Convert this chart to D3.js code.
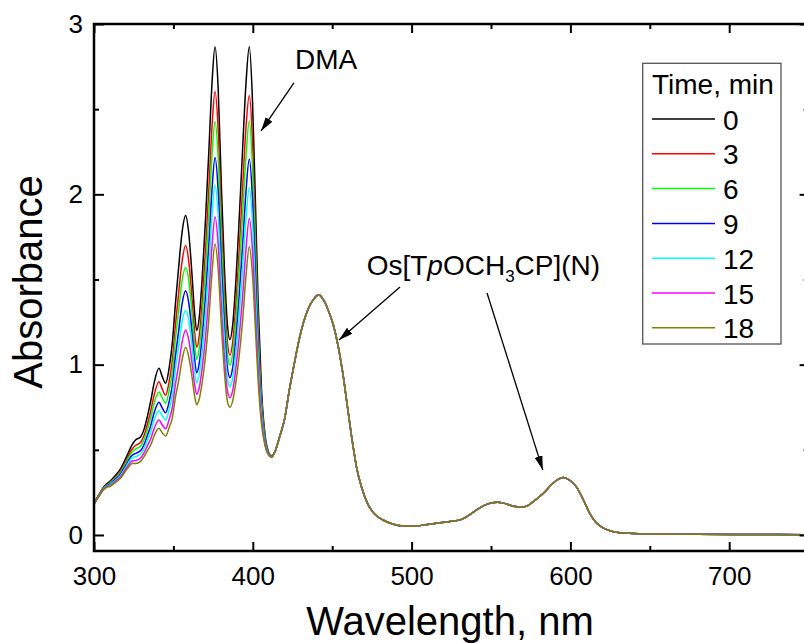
<!DOCTYPE html>
<html>
<head>
<meta charset="utf-8">
<script src="https://cdn.jsdelivr.net/npm/d3@7"></script>
<style>
  body { margin: 0; background: #fff; }
  svg { display: block; font-family: "Liberation Sans", Arial, sans-serif; }
</style>
</head>
<body>
<div id="wrapper"></div>
<script>
// 1. Data
const times = [0, 3, 6, 9, 12, 15, 18]
const colors = ["#000000", "#ff0000", "#00ff00", "#0000ff", "#00ffff", "#ff00ff", "#808000"]

// DMA region, the curves differ with time
const dmaWavelengths = [300, 303, 306, 308, 310, 313, 316.8, 321, 324, 326.2, 329.4, 331.5, 333.6, 335.8, 337.8, 340.9, 343, 345.1, 347.3, 349.3, 351.3, 353.2, 355.5, 357.7, 359.8, 361.7, 363.3, 364.7, 366.3, 368.2, 370.2, 372.3, 374.3, 376.2, 378.2, 380.2, 382.2, 383.9, 385.6, 387.4, 389.4, 391.4, 393.5, 395.7, 397.8, 399.8, 401.6, 403.4, 405.5, 407.8, 409.8, 411.8]
const abs0 = [.186, .235, .280, .300, .315, .345, .390, .470, .530, .558, .577, .620, .695, .790, .890, .979, .930, .891, .980, 1.126, 1.360, 1.560, 1.780, 1.875, 1.760, 1.530, 1.310, 1.200, 1.280, 1.520, 1.850, 2.250, 2.650, 2.867, 2.620, 2.050, 1.550, 1.250, 1.147, 1.240, 1.500, 1.850, 2.250, 2.650, 2.867, 2.550, 1.970, 1.350, .850, .580, .490, .465]
const abs3 = [.185, .233, .277, .295, .308, .336, .377, .452, .505, .526, .544, .584, .649, .731, .819, .899, .855, .820, .900, 1.026, 1.235, 1.410, 1.609, 1.699, 1.596, 1.393, 1.198, 1.102, 1.171, 1.379, 1.668, 2.027, 2.397, 2.603, 2.378, 1.863, 1.413, 1.145, 1.056, 1.137, 1.363, 1.668, 2.022, 2.392, 2.580, 2.317, 1.799, 1.247, .804, .566, .485, .463]
const abs6 = [.184, .231, .274, .292, .304, .330, .369, .440, .488, .505, .522, .559, .619, .691, .772, .840, .805, .773, .847, .959, 1.151, 1.309, 1.495, 1.570, 1.486, 1.302, 1.124, 1.030, 1.098, 1.284, 1.546, 1.878, 2.228, 2.427, 2.217, 1.738, 1.322, 1.075, .996, 1.069, 1.272, 1.546, 1.870, 2.221, 2.430, 2.162, 1.685, 1.179, .774, .557, .482, .461]
const abs9 = [.183, .229, .272, .289, .298, .323, .359, .425, .468, .479, .496, .530, .583, .644, .716, .779, .745, .717, .783, .879, 1.051, 1.189, 1.359, 1.434, 1.355, 1.193, 1.035, .952, 1.010, 1.172, 1.400, 1.699, 2.026, 2.216, 2.024, 1.589, 1.213, .991, .924, .987, 1.163, 1.400, 1.688, 2.015, 2.207, 1.977, 1.549, 1.097, .738, .546, .479, .459]
const abs12 = [.182, .228, .269, .286, .294, .317, .351, .414, .453, .460, .475, .508, .555, .608, .673, .730, .699, .674, .735, .818, .974, 1.097, 1.254, 1.318, 1.255, 1.109, .967, .893, .944, 1.085, 1.289, 1.563, 1.872, 2.055, 1.877, 1.475, 1.129, .928, .869, .925, 1.079, 1.289, 1.549, 1.858, 2.038, 1.835, 1.444, 1.035, .710, .538, .476, .458]
const abs15 = [.182, .226, .267, .283, .289, .311, .343, .401, .435, .437, .452, .482, .523, .566, .623, .675, .646, .624, .678, .747, .886, .991, 1.134, 1.204, 1.139, 1.013, .888, .826, .866, .986, 1.160, 1.405, 1.693, 1.869, 1.706, 1.343, 1.033, .853, .805, .852, .983, 1.160, 1.388, 1.676, 1.860, 1.671, 1.324, .962, .678, .528, .473, .456]
const abs18 = [.181, .225, .265, .280, .285, .305, .335, .390, .420, .420, .432, .460, .495, .530, .580, .626, .600, .581, .630, .686, .810, .900, 1.030, 1.102, 1.040, .930, .820, .765, .800, .900, 1.050, 1.270, 1.540, 1.709, 1.560, 1.230, .950, .790, .750, .790, .900, 1.050, 1.250, 1.520, 1.693, 1.530, 1.220, .900, .650, .520, .470, .455]

// beyond ~412 nm every curve lies on the same Os[TpOCH3CP](N) spectrum
const tailWavelengths = [414, 417, 420, 423, 426, 429, 432, 435, 438, 441.5, 444.5, 447.5, 450.5, 453.5, 456.5, 459.5, 462.5, 465.5, 468.5, 472, 476, 482, 488, 495, 502, 510, 518, 525, 531, 536, 541, 546, 550, 554, 558, 563, 568, 572, 576.6, 583, 589, 592, 595.5, 599, 604, 608, 612, 616, 620, 625, 630, 637, 650, 680, 710, 750]
const tailAbs = [.49, .58, .68, .85, 1.0, 1.14, 1.25, 1.33, 1.38, 1.41, 1.38, 1.32, 1.24, 1.12, .96, .76, .56, .39, .28, .19, .13, .088, .065, .053, .052, .062, .072, .08, .09, .115, .147, .175, .188, .192, .187, .172, .163, .168, .196, .245, .304, .325, .337, .325, .28, .21, .13, .075, .045, .025, .015, .01, .006, .004, .003, .002]

const xMajorTicks = [300, 400, 500, 600, 700]
const xMinorTicks = [350, 450, 550, 650, 750]
const yMajorTicks = [0, 1, 2, 3]
const yMinorTicks = [0.5, 1.5, 2.5]

const seriesValues = [abs0, abs3, abs6, abs9, abs12, abs15, abs18]
const wavelengths = dmaWavelengths.concat(tailWavelengths)
const dataset = times.map((t, i) => ({
  time: t,
  color: colors[i],
  points: wavelengths.map((w, j) => [w, seriesValues[i].concat(tailAbs)[j]])
}))

// 2. Dimensions
const dimensions = {
  width: 804,
  height: 643,
  left: 94,
  right: 808.6,
  top: 24,
  bottom: 551,
}

// 3. Canvas
const svg = d3.select("#wrapper").append("svg")
  .attr("width", dimensions.width)
  .attr("height", dimensions.height)

// 4. Scales
const x = d3.scaleLinear().domain([300, 750]).range([dimensions.left, dimensions.right])
const y = d3.scaleLinear().domain([-0.094, 3]).range([dimensions.bottom, dimensions.top])

svg.append("defs").append("clipPath").attr("id", "clip")
  .append("rect")
    .attr("x", dimensions.left).attr("y", dimensions.top)
    .attr("width", dimensions.right - dimensions.left)
    .attr("height", dimensions.bottom - dimensions.top)

svg.select("defs").append("marker")
    .attr("id", "arrow")
    .attr("markerUnits", "userSpaceOnUse")
    .attr("markerWidth", 14).attr("markerHeight", 8)
    .attr("refX", 14).attr("refY", 4)
    .attr("orient", "auto")
  .append("path")
    .attr("d", "M0,0 L14,4 L0,8 Z")
    .attr("fill", "#000")

// 5. Data
const lineGenerator = d3.line()
  .x(d => x(d[0]))
  .y(d => y(d[1]))
  .curve(d3.curveMonotoneX)

svg.append("g").attr("clip-path", "url(#clip)")
  .selectAll("path")
  .data(dataset)
  .join("path")
    .attr("d", d => lineGenerator(d.points))
    .attr("fill", "none")
    .attr("stroke", d => d.color)
    .attr("stroke-width", 1.5)

// 6. Peripherals
const styleAxis = g => {
  g.select(".domain").remove()
  g.selectAll(".tick line").attr("stroke", "#000").attr("stroke-width", 2)
  g.selectAll(".tick text").attr("fill", "#000").attr("font-size", 26)
    .attr("font-family", "Liberation Sans, Arial, sans-serif")
}

svg.append("g").attr("transform", `translate(0,${dimensions.bottom})`)
  .call(d3.axisBottom(x).tickValues(xMajorTicks).tickSize(-9).tickPadding(16).tickFormat(d3.format("d")))
  .call(styleAxis)
svg.append("g").attr("transform", `translate(0,${dimensions.bottom})`)
  .call(d3.axisBottom(x).tickValues(xMinorTicks).tickSize(-5).tickFormat(""))
  .call(styleAxis)
svg.append("g").attr("transform", `translate(0,${dimensions.top})`)
  .call(d3.axisTop(x).tickValues(xMajorTicks).tickSize(-9).tickFormat(""))
  .call(styleAxis)
svg.append("g").attr("transform", `translate(0,${dimensions.top})`)
  .call(d3.axisTop(x).tickValues(xMinorTicks).tickSize(-5).tickFormat(""))
  .call(styleAxis)

svg.append("g").attr("transform", `translate(${dimensions.left},0)`)
  .call(d3.axisLeft(y).tickValues(yMajorTicks).tickSize(-10).tickPadding(11).tickFormat(d3.format("d")))
  .call(styleAxis)
svg.append("g").attr("transform", `translate(${dimensions.left},0)`)
  .call(d3.axisLeft(y).tickValues(yMinorTicks).tickSize(-5).tickFormat(""))
  .call(styleAxis)
svg.append("g").attr("transform", `translate(${dimensions.right},0)`)
  .call(d3.axisRight(y).tickValues(yMajorTicks).tickSize(-9).tickFormat(""))
  .call(styleAxis)
svg.append("g").attr("transform", `translate(${dimensions.right},0)`)
  .call(d3.axisRight(y).tickValues(yMinorTicks).tickSize(-5).tickFormat(""))
  .call(styleAxis)

// frame
svg.append("rect")
  .attr("x", dimensions.left).attr("y", dimensions.top)
  .attr("width", dimensions.right - dimensions.left)
  .attr("height", dimensions.bottom - dimensions.top)
  .attr("fill", "none").attr("stroke", "#000").attr("stroke-width", 2.5)

svg.append("text")
  .attr("x", 450).attr("y", 635)
  .attr("text-anchor", "middle").attr("font-size", 40)
  .text("Wavelength, nm")

svg.append("text")
  .attr("transform", "translate(41.5,282) rotate(-90)")
  .attr("text-anchor", "middle").attr("font-size", 40)
  .text("Absorbance")

// annotations
const arrow = (x1, y1, x2, y2) => svg.append("line")
  .attr("x1", x(x1)).attr("y1", y(y1))
  .attr("x2", x(x2)).attr("y2", y(y2))
  .attr("stroke", "#000").attr("stroke-width", 1.3)
  .attr("marker-end", "url(#arrow)")

svg.append("text").attr("x", x(426.6)).attr("y", y(2.735))
  .attr("font-size", 28).text("DMA")
arrow(425.9, 2.654, 405.2, 2.372)

const osLabel = svg.append("text").attr("x", x(471.7)).attr("y", y(1.527)).attr("font-size", 28)
osLabel.append("tspan").text("Os[T")
osLabel.append("tspan").attr("font-style", "italic").text("p")
osLabel.append("tspan").text("OCH")
osLabel.append("tspan").attr("font-size", 17).attr("dy", 7).text("3")
osLabel.append("tspan").attr("dy", -7).text("CP](N)")
arrow(492.7, 1.456, 454.3, 1.145)
arrow(547.5, 1.421, 582.6, 0.382)

// legend
const legend = svg.append("g")
legend.append("rect")
  .attr("x", 642.7).attr("y", 63.3)
  .attr("width", 138.3).attr("height", 280.7)
  .attr("fill", "#fff").attr("stroke", "#555").attr("stroke-width", 1.3)
legend.append("text").attr("x", 652).attr("y", 93.5)
  .attr("font-size", 28).text("Time, min")

const legendItems = legend.selectAll(".item")
  .data(dataset)
  .join("g")
    .attr("class", "item")
    .attr("transform", (d, i) => `translate(0,${119 + i * 34.8})`)
legendItems.append("line")
  .attr("x1", 652).attr("x2", 715)
  .attr("stroke", d => d.color).attr("stroke-width", 1.5)
legendItems.append("text")
  .attr("x", 723).attr("y", 10.5)
  .attr("font-size", 28)
  .text(d => d.time)
</script>
</body>
</html>
